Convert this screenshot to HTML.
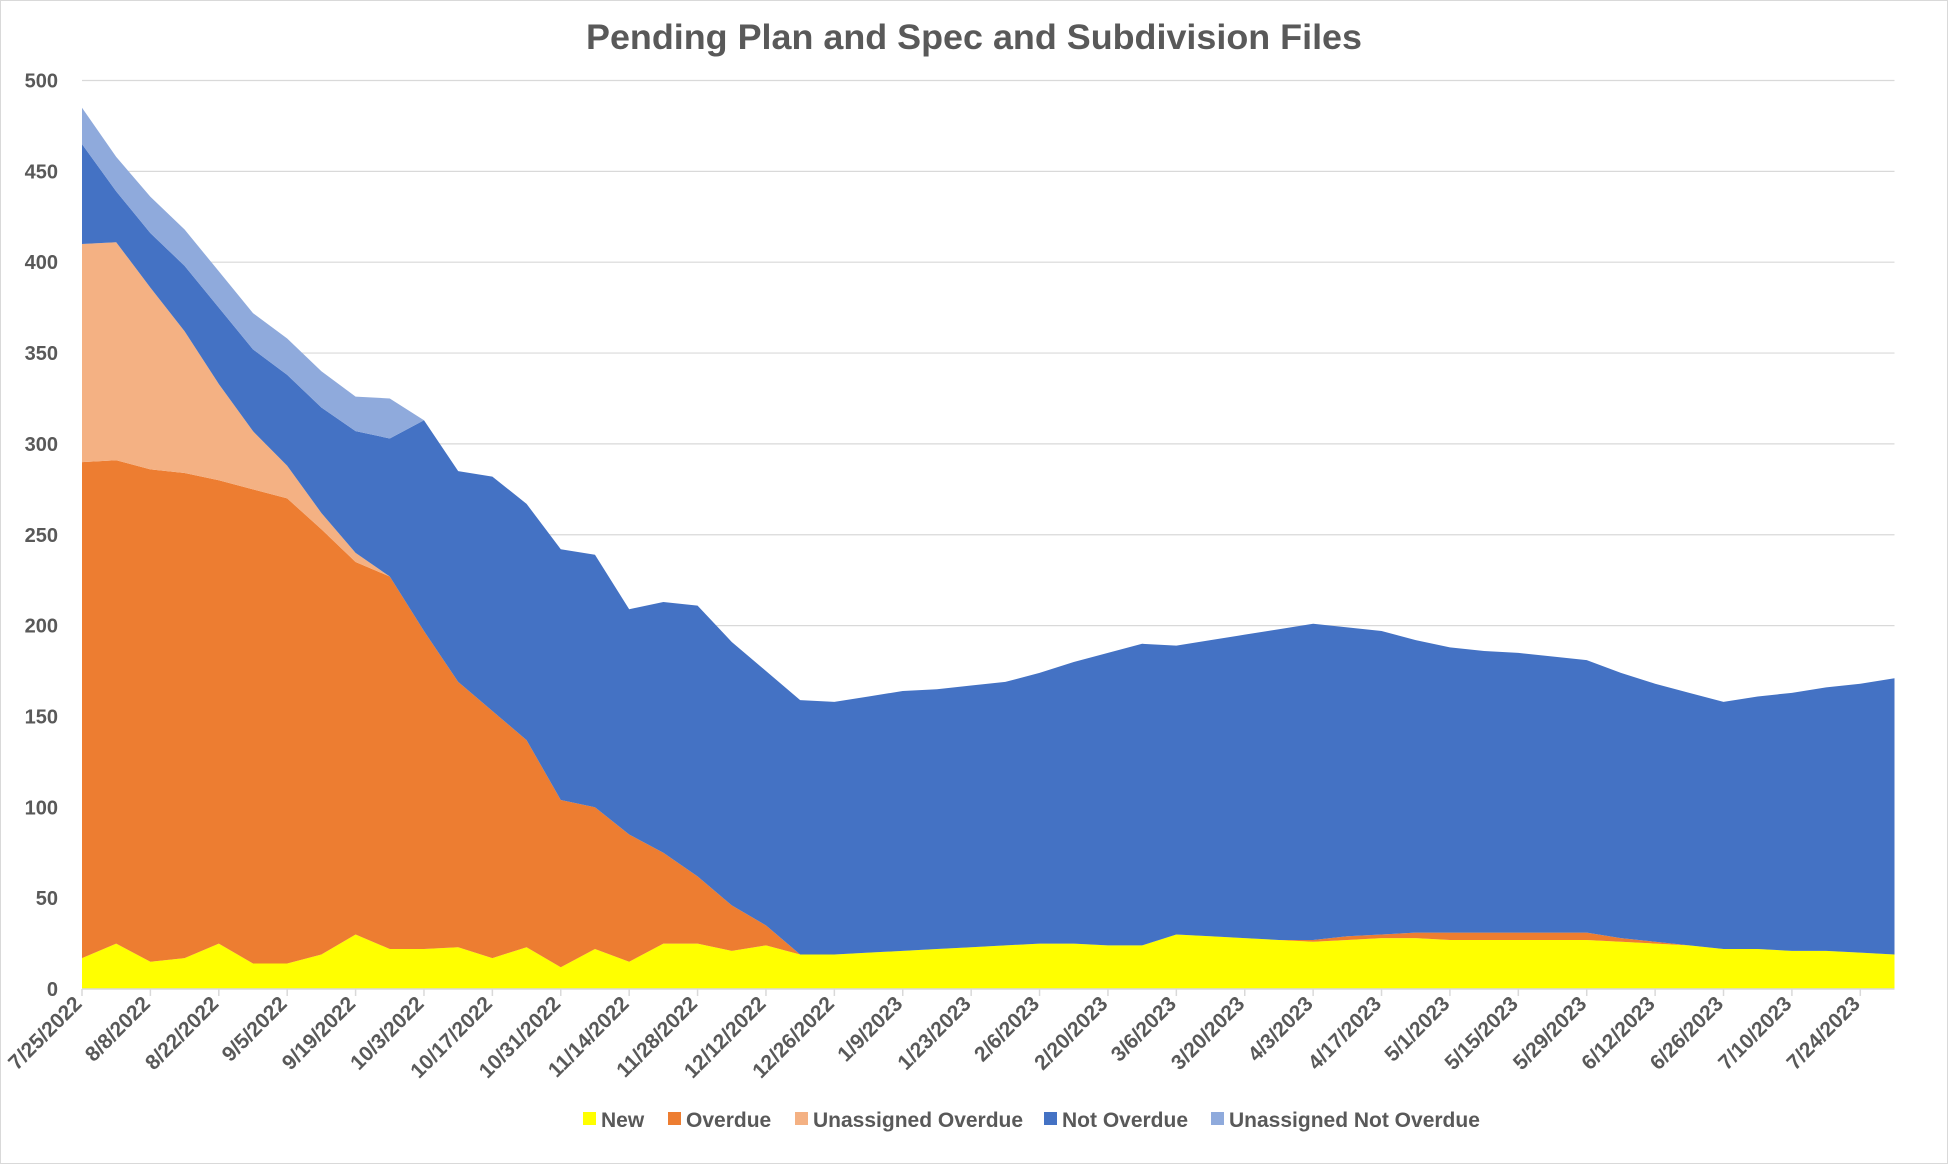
<!DOCTYPE html>
<html><head><meta charset="utf-8"><style>
html,body{margin:0;padding:0;background:#fff}
svg{display:block}
text{font-family:"Liberation Sans Narrow","Liberation Sans",sans-serif;font-weight:bold;fill:#595959}
</style></head><body>
<svg id="chart" width="1948" height="1164" viewBox="0 0 1948 1164">
<rect x="0.5" y="0.5" width="1947" height="1163" fill="#fff" stroke="#d9d9d9"/>
<text x="974" y="49" text-anchor="middle" font-size="35" textLength="776" lengthAdjust="spacingAndGlyphs">Pending Plan and Spec and Subdivision Files</text>
<g id="grid"></g><g id="areas"></g><g id="axes"></g><g id="legend"></g>
</svg>
<script>
const tickLabels = ["7/25/2022","8/8/2022","8/22/2022","9/5/2022","9/19/2022","10/3/2022","10/17/2022","10/31/2022","11/14/2022","11/28/2022","12/12/2022","12/26/2022","1/9/2023","1/23/2023","2/6/2023","2/20/2023","3/6/2023","3/20/2023","4/3/2023","4/17/2023","5/1/2023","5/15/2023","5/29/2023","6/12/2023","6/26/2023","7/10/2023","7/24/2023"];
const yTicks = [0,50,100,150,200,250,300,350,400,450,500];
const seriesNames = ["New","Overdue","Unassigned Overdue","Not Overdue","Unassigned Not Overdue"];
const newVals = [17,25,15,17,25,14,14,19,30,22,22,23,17,23,12,22,15,25,25,21,24,19,19,20,21,22,23,24,25,25,24,24,30,29,28,27,26,27,28,28,27,27,27,27,27,26,25,24,22,22,21,21,20,19];
const overdueVals = [273,266,271,267,255,261,256,234,205,205,175,146,136,114,92,78,70,50,37,25,11,0,0,0,0,0,0,0,0,0,0,0,0,0,0,0,1,2,2,3,4,4,4,4,4,2,1,0,0,0,0,0,0,0];
const unassignedOverdueVals = [120,120,100,78,53,32,18,9,5,0,0,0,0,0,0,0,0,0,0,0,0,0,0,0,0,0,0,0,0,0,0,0,0,0,0,0,0,0,0,0,0,0,0,0,0,0,0,0,0,0,0,0,0,0];
const notOverdueVals = [55,28,30,36,42,45,50,58,67,76,116,116,129,130,138,139,124,138,149,145,140,140,139,141,143,143,144,145,149,155,161,166,159,163,167,171,174,170,167,161,157,155,154,152,150,146,142,139,136,139,142,145,148,152];
const unassignedNotOverdueVals = [20,19,20,20,20,20,20,20,19,22,0,0,0,0,0,0,0,0,0,0,0,0,0,0,0,0,0,0,0,0,0,0,0,0,0,0,0,0,0,0,0,0,0,0,0,0,0,0,0,0,0,0,0,0];
const colors = ["#ffff00","#ed7d31","#f4b183","#4472c4","#8faadc"];

const NS="http://www.w3.org/2000/svg";
const X0=82, X1=1894.5, Y0=989, Y500=80.5;
const n=newVals.length;
const xs=i=>X0+(X1-X0)*i/(n-1);
const ys=v=>Y0-(Y0-Y500)*v/500;
function mk(tag,attrs,parent){const e=document.createElementNS(NS,tag);for(const k in attrs)e.setAttribute(k,attrs[k]);parent.appendChild(e);return e;}
const grid=document.getElementById('grid'),areas=document.getElementById('areas'),axes=document.getElementById('axes'),legend=document.getElementById('legend');
yTicks.forEach(t=>{
  if(t>0){const l=mk('line',{x1:X0,x2:X1,y1:ys(t),y2:ys(t),stroke:'#d9d9d9','stroke-width':1.2},grid);
  
  }
  const tx=mk('text',{x:58,y:ys(t)+7,'text-anchor':'end','font-size':20},axes);tx.textContent=t;
  
  
});
const all=[newVals,overdueVals,unassignedOverdueVals,notOverdueVals,unassignedNotOverdueVals];
let base=new Array(n).fill(0);
all.forEach((s,k)=>{
  const top=base.map((b,i)=>b+s[i]);
  let d='M'+xs(0)+','+ys(top[0]);
  for(let i=1;i<n;i++)d+=' L'+xs(i)+','+ys(top[i]);
  for(let i=n-1;i>=0;i--)d+=' L'+xs(i)+','+ys(base[i]);
  d+=' Z';
  const p=mk('path',{d:d,fill:colors[k]},areas);
  
  
  base=top;
});
mk('line',{x1:X0,x2:X1,y1:Y0,y2:Y0,stroke:'#d9d9d9','stroke-width':1.5},axes);
tickLabels.forEach((lab,j)=>{
  const x=xs(j*2);
  mk('line',{x1:x,x2:x,y1:Y0,y2:Y0+7,stroke:'#d9d9d9','stroke-width':1.5},axes);
  const t=mk('text',{x:0,y:0,'text-anchor':'end','font-size':21,transform:`translate(${x+1},${Y0+16}) rotate(-45)`},axes);
  t.textContent=lab;
  
  
});
const lx=[583,668,795,1044,1211];
seriesNames.forEach((nm,k)=>{
  const g=mk('g',{},legend);
  
  
  mk('rect',{x:lx[k],y:1112,width:13,height:13,fill:colors[k]},g);
  const t=mk('text',{x:lx[k]+18,y:1127,'font-size':21},g);t.textContent=nm;
});
</script>
</body></html>
